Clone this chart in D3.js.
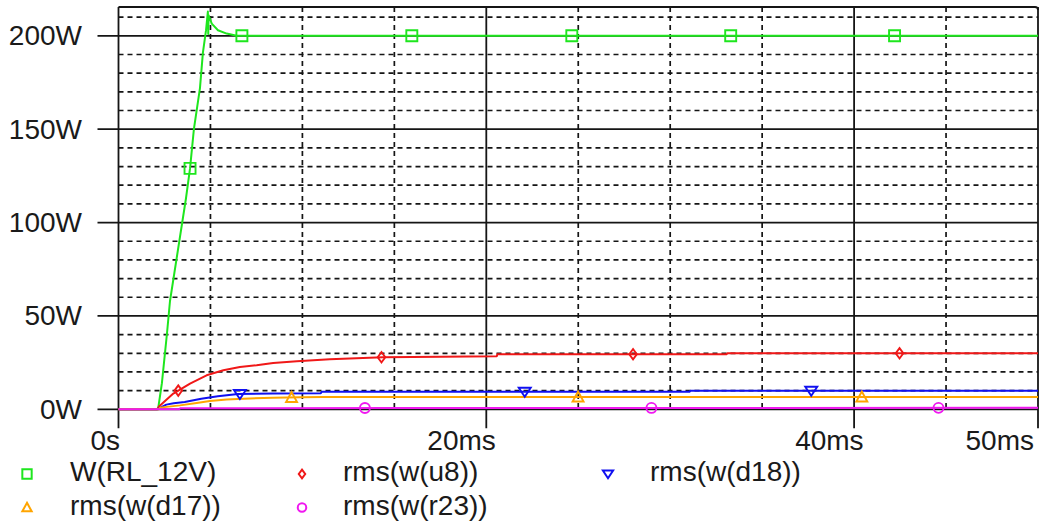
<!DOCTYPE html>
<html>
<head>
<meta charset="utf-8">
<script src="https://cdn.jsdelivr.net/npm/d3@7"></script>
<style>
  html, body { margin: 0; padding: 0; background: #fff; }
  svg { display: block; }
  text { font-family: "Liberation Sans", Arial, sans-serif; fill: #1a1a1a; }
</style>
</head>
<body>
<svg id="chart" width="1042" height="522"></svg>
<script>
// ---- axis ticks (time in ms, power in W) ----
const xTickValues = [0, 20, 40, 50];
const xTickLabels = ["0s", "20ms", "40ms", "50ms"];
const xMinorGrid  = [5, 10, 15, 25, 30, 35, 45];
const yTickValues = [0, 50, 100, 150, 200];
const yTickLabels = ["0W", "50W", "100W", "150W", "200W"];
const yMinorGrid  = [10, 20, 30, 40, 60, 70, 80, 90, 110, 120, 130, 140, 160, 170, 180, 190, 210];

// ---- traces ----
const rlTime  = [0, 2.15, 2.36, 2.64, 2.80, 3.67, 3.89, 4.10, 4.43, 4.59, 4.76, 4.86, 4.88, 4.90, 5.07, 5.41, 5.88, 6.42, 50];
const rlPower = [0, 0,    14,   41,   58,   113,  129,  150,  172,  191,  203,  213,  201,  211,  206.5, 203, 201.2, 200, 200];

const u8Time  = [0, 2.1, 2.2, 2.98, 3.89, 4.79, 5.70, 6.60, 7.51, 8.41, 9.70, 11.49, 14.38, 17.5, 20.57, 20.6, 33.07, 33.1, 50];
const u8Power = [0, 0,   1.5, 8.4,  13.8, 18.2, 20.9, 22.7, 23.6, 24.8, 25.7, 26.8,  27.9,  28.2, 28.4,  29.5, 29.5,  30.0, 30.0];

const d18Time  = [0, 2.1, 2.2, 2.6, 3.0, 3.6, 4.5, 5.4, 6.5, 8.4, 11.0, 11.05, 31.05, 31.1, 50];
const d18Power = [0, 0,   0.5, 2.5, 3.2, 3.9, 5.7, 7.0, 8.2, 8.4, 8.6,  9.4,   9.4,   9.9,  9.9];

const d17Time  = [0, 2.2, 2.26, 3.34, 4.25, 4.97, 5.88, 6.78, 8.41, 9.9, 11.1, 50];
const d17Power = [0, 0,   0.9,  2.1,  3.4,  4.4,  5.2,  5.7,  6.2,  6.4, 6.6,  6.6];

const r23Time  = [0, 3.3, 3.35, 15, 50];
const r23Power = [0, 0,   0.5,  0.7, 0.8];

// times at which each trace carries its symbol
const rlMarks  = [3.89, 6.71, 15.95, 24.65, 33.29, 42.2];
const u8Marks  = [3.25, 14.3, 27.98, 42.47];
const d18Marks = [6.6, 22.09, 37.67];
const d17Marks = [9.41, 24.99, 40.42];
const r23Marks = [13.4, 28.98, 44.59];

const seriesNames  = ["W(RL_12V)", "rms(w(u8))", "rms(w(d18))", "rms(w(d17))", "rms(w(r23))"];
const seriesColors = ["#1ee61e", "#f01818", "#1010f0", "#ffa500", "#f018f0"];

// ---- layout ----
const svg = d3.select("#chart");
const plotLeft = 118.5, plotRight = 1038, plotTop = 7, zeroY = 409.3;
const x = d3.scaleLinear().domain([0, 50]).range([plotLeft, plotRight]);
const y = d3.scaleLinear().domain([0, 200]).range([zeroY, 35.8]);
const gridColor = "#151515";

svg.append("rect").attr("width", 1042).attr("height", 522).attr("fill", "#fff");

const grid = svg.append("g");
// dashed minor grid
grid.selectAll("line.hmin").data(yMinorGrid).join("line")
  .attr("x1", plotLeft).attr("x2", plotRight)
  .attr("y1", d => y(d)).attr("y2", d => y(d))
  .attr("stroke", gridColor).attr("stroke-width", 1.7).attr("stroke-dasharray", "5,4");
grid.selectAll("line.vmin").data(xMinorGrid).join("line")
  .attr("x1", d => x(d)).attr("x2", d => x(d))
  .attr("y1", plotTop).attr("y2", zeroY)
  .attr("stroke", gridColor).attr("stroke-width", 1.7).attr("stroke-dasharray", "5,4");

// solid major grid with outside ticks
grid.selectAll("line.hmaj").data(yTickValues).join("line")
  .attr("x1", plotLeft - 21).attr("x2", plotRight)
  .attr("y1", d => y(d)).attr("y2", d => y(d))
  .attr("stroke", gridColor).attr("stroke-width", 1.8);
grid.selectAll("line.vmaj").data(xTickValues).join("line")
  .attr("x1", d => x(d)).attr("x2", d => x(d))
  .attr("y1", plotTop).attr("y2", zeroY + 19)
  .attr("stroke", gridColor).attr("stroke-width", 1.8);
// top border with a softly rounded right corner
grid.append("path")
  .attr("d", `M${plotLeft},${plotTop} H${plotRight - 3} Q${plotRight},${plotTop} ${plotRight},${plotTop + 3}`)
  .attr("fill", "none").attr("stroke", gridColor).attr("stroke-width", 1.8);

// axis labels
svg.selectAll("text.ylab").data(yTickValues).join("text")
  .attr("x", 82).attr("y", d => y(d) + 9.5)
  .attr("text-anchor", "end").attr("font-size", 28)
  .text((d, i) => yTickLabels[i]);
svg.selectAll("text.xlab").data(xTickValues).join("text")
  .attr("x", (d, i) => i === 0 ? x(d) + 1.5 : Math.min(x(d) + 9.5, 1034))
  .attr("y", 450)
  .attr("text-anchor", "end").attr("font-size", 28)
  .text((d, i) => xTickLabels[i]);

// ---- traces ----
const traces = [
  { t: rlTime,  v: rlPower,  marks: rlMarks },
  { t: u8Time,  v: u8Power,  marks: u8Marks },
  { t: d18Time, v: d18Power, marks: d18Marks },
  { t: d17Time, v: d17Power, marks: d17Marks },
  { t: r23Time, v: r23Power, marks: r23Marks }
];

function valueAt(tr, tm) {
  const i = d3.bisectRight(tr.t, tm);
  if (i <= 0) return tr.v[0];
  if (i >= tr.t.length) return tr.v[tr.v.length - 1];
  const t0 = tr.t[i - 1], t1 = tr.t[i];
  const f = (tm - t0) / (t1 - t0);
  return tr.v[i - 1] + f * (tr.v[i] - tr.v[i - 1]);
}

// outline symbols: square, diamond, down triangle, up triangle, circle
const symbolPaths = [
  s => `M${-5.5 * s},${-5.5 * s}h${11 * s}v${11 * s}h${-11 * s}Z`,
  s => `M0,${-5.2 * s}L${3.8 * s},0L0,${5.2 * s}L${-3.8 * s},0Z`,
  s => `M${-6 * s},${-4 * s}L${6 * s},${-4 * s}L0,${5 * s}Z`,
  s => `M0,${-5.5 * s}L${5.5 * s},${4.5 * s}L${-5.5 * s},${4.5 * s}Z`,
  s => `M${5 * s},0A${5 * s},${5 * s} 0 1 1 ${-5 * s},0A${5 * s},${5 * s} 0 1 1 ${5 * s},0Z`
];

const line = d3.line().x(d => x(d[0])).y(d => y(d[1]));
const plot = svg.append("g");
traces.forEach((tr, k) => {
  const pts = tr.t.map((tm, i) => [tm, tr.v[i]]);
  plot.append("path").datum(pts)
    .attr("d", line).attr("fill", "none")
    .attr("stroke", seriesColors[k]).attr("stroke-width", 2)
    .attr("stroke-linejoin", "round");
});
traces.forEach((tr, k) => {
  plot.selectAll(null).data(tr.marks).join("path")
    .attr("transform", tm => `translate(${x(tm)},${y(valueAt(tr, tm))})`)
    .attr("d", symbolPaths[k](1))
    .attr("fill", "none").attr("stroke", seriesColors[k]).attr("stroke-width", 1.9);
});

// ---- legend ----
const legendSymX = [27, 302, 608];
const legendTextX = [70, 343, 650];
const legendRowY = [471.5, 505];
const legend = svg.append("g");
seriesNames.forEach((name, k) => {
  const col = k % 3, row = Math.floor(k / 3);
  legend.append("path")
    .attr("transform", `translate(${legendSymX[col]},${legendRowY[row] + 2.5})`)
    .attr("d", symbolPaths[k](0.85))
    .attr("fill", "none").attr("stroke", seriesColors[k]).attr("stroke-width", 2);
  legend.append("text")
    .attr("x", legendTextX[col]).attr("y", legendRowY[row] + 9.5)
    .attr("font-size", 28)
    .text(name);
});
</script>
</body>
</html>
